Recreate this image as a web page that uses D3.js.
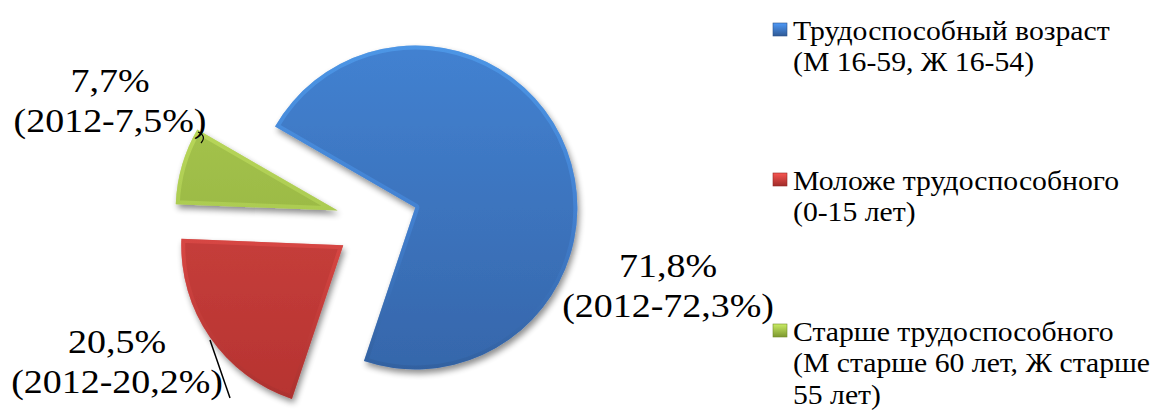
<!DOCTYPE html>
<html lang="ru">
<head>
    <meta charset="UTF-8">
    <title>Возрастная структура населения</title>
    <script src="https://d3js.org/d3.v7.min.js"></script>
    <style>
        body {
            margin: 0;
            background-color: #ffffff;
        }

        .serif {
            font-family: 'Liberation Serif', 'DejaVu Serif', 'Times New Roman', Times, serif;
        }
    </style>
</head>
<body>
    <svg id="chart" width="1151" height="410"></svg>
    <script>
        // Data
        const categories = ["Трудоспособный возраст", "Моложе трудоспособного", "Старше трудоспособного"];
        const legendLines = [
            ["Трудоспособный возраст", "(М 16-59, Ж 16-54)"],
            ["Моложе трудоспособного", "(0-15 лет)"],
            ["Старше трудоспособного", "(М старше 60 лет, Ж старше", "55 лет)"]
        ];
        const values2013 = [71.8, 20.5, 7.7];
        const values2012 = [72.3, 20.2, 7.5];

        const fmt = v => String(v).replace(".", ",");

        // Colours: [top, bottom] for each slice
        const colors = [
            ["#4485d6", "#3463a6"],
            ["#d74a46", "#b2302e"],
            ["#aecd57", "#8aa833"]
        ];

        // Layout
        const svg = d3.select("#chart");
        const cx = 377, cy = 222;
        const radius = 162;
        const explode = 41;
        const rotation = 300 * Math.PI / 180;
        const sx = 1.1; // text horizontal stretch

        // label anchors (centre x, first baseline)
        const labelPos = [[668, 277], [117, 353], [110, 92]];
        const legendPos = [[773, 40], [773, 190], [773, 341]];

        const defs = svg.append("defs");

        // shadow
        const shadow = defs.append("filter").attr("id", "shadow")
            .attr("x", "-20%").attr("y", "-20%").attr("width", "140%").attr("height", "140%");
        shadow.append("feGaussianBlur").attr("in", "SourceAlpha").attr("stdDeviation", 3).attr("result", "blur");
        shadow.append("feOffset").attr("in", "blur").attr("dx", 2).attr("dy", 4).attr("result", "off");
        shadow.append("feComponentTransfer").attr("in", "off").attr("result", "soft")
            .append("feFuncA").attr("type", "linear").attr("slope", 0.45);
        const merge = shadow.append("feMerge");
        merge.append("feMergeNode").attr("in", "soft");
        merge.append("feMergeNode").attr("in", "SourceGraphic");

        colors.forEach((c, i) => {
            const g = defs.append("linearGradient").attr("id", "fill" + i)
                .attr("gradientUnits", "userSpaceOnUse")
                .attr("x1", 0).attr("y1", -radius - explode).attr("x2", 0).attr("y2", radius + explode);
            g.append("stop").attr("offset", "0%").attr("stop-color", c[0]);
            g.append("stop").attr("offset", "100%").attr("stop-color", c[1]);

            const e = defs.append("linearGradient").attr("id", "edge" + i)
                .attr("gradientUnits", "userSpaceOnUse")
                .attr("x1", 0).attr("y1", -radius - explode).attr("x2", 0).attr("y2", radius + explode);
            e.append("stop").attr("offset", "0%").attr("stop-color", d3.color(c[0]).brighter(0.8));
            e.append("stop").attr("offset", "50%").attr("stop-color", d3.color(c[0]).brighter(0.2));
            e.append("stop").attr("offset", "100%").attr("stop-color", d3.color(c[1]).darker(0.7));

            const m = defs.append("linearGradient").attr("id", "mark" + i)
                .attr("x1", 0).attr("y1", 0).attr("x2", 0).attr("y2", 1);
            m.append("stop").attr("offset", "0%").attr("stop-color", d3.color(c[0]).brighter(0.4));
            m.append("stop").attr("offset", "100%").attr("stop-color", d3.color(c[1]).darker(0.3));
        });

        const pie = d3.pie().sort(null).value(d => d)
            .startAngle(rotation).endAngle(rotation + 2 * Math.PI);
        const arc = d3.arc().innerRadius(0).outerRadius(radius);
        const arcs = pie(values2013);

        const slices = svg.append("g").attr("transform", `translate(${cx},${cy})`);

        arcs.forEach((a, i) => {
            const mid = (a.startAngle + a.endAngle) / 2;
            const dx = explode * Math.sin(mid), dy = -explode * Math.cos(mid);
            const g = slices.append("g").attr("transform", `translate(${dx},${dy})`);
            const clipId = "clip" + i;
            defs.append("clipPath").attr("id", clipId)
                .append("path").attr("d", arc(a));
            g.append("path")
                .attr("d", arc(a))
                .attr("fill", `url(#fill${i})`)
                .attr("filter", "url(#shadow)");
            // bevel edge
            g.append("path")
                .attr("d", arc(a))
                .attr("fill", "none")
                .attr("stroke", `url(#edge${i})`)
                .attr("stroke-width", 8)
                .attr("stroke-opacity", 0.5)
                .attr("stroke-linejoin", "round")
                .attr("clip-path", `url(#${clipId})`);
        });

        // leader lines
        svg.append("line").attr("x1", 210).attr("y1", 340).attr("x2", 230).attr("y2", 398)
            .attr("stroke", "#000").attr("stroke-width", 1.5);
        svg.append("path").attr("d", "M198,132 Q207,136 201,143")
            .attr("fill", "none").attr("stroke", "#000").attr("stroke-width", 1.2);

        // data labels
        labelPos.forEach((p, i) => {
            const t = svg.append("g").attr("class", "serif")
                .attr("transform", `translate(${p[0]},${p[1]}) scale(${sx},1)`);
            t.append("text").attr("text-anchor", "middle").attr("font-size", 34.5)
                .text(fmt(values2013[i]) + "%");
            t.append("text").attr("text-anchor", "middle").attr("font-size", 34.5).attr("y", 40)
                .text(`(2012-${fmt(values2012[i])}%)`);
        });

        // legend
        legendPos.forEach((p, i) => {
            const g = svg.append("g").attr("transform", `translate(${p[0]},${p[1]})`);
            g.append("rect").attr("x", 0).attr("y", -17).attr("width", 14).attr("height", 13)
                .attr("fill", `url(#mark${i})`)
                .attr("stroke", d3.color(colors[i][1]).darker(0.5)).attr("stroke-width", 0.6);
            const t = g.append("g").attr("class", "serif")
                .attr("transform", `translate(20,0) scale(${sx},1)`);
            legendLines[i].forEach((line, j) => {
                t.append("text").attr("font-size", 27).attr("y", j * 31.5).text(line);
            });
        });
    </script>
</body>
</html>
